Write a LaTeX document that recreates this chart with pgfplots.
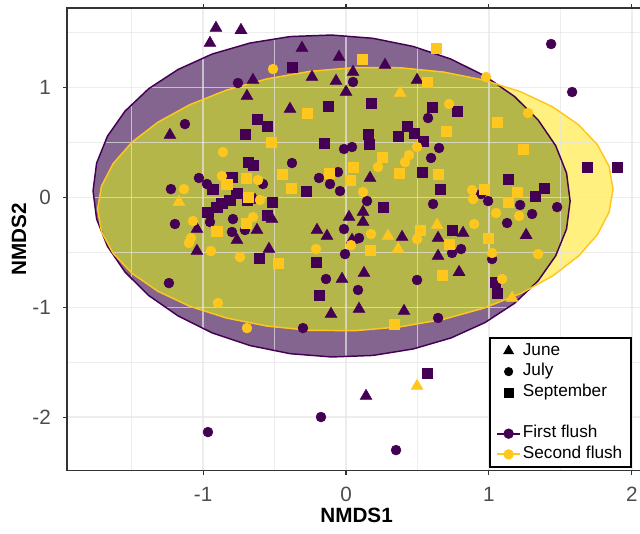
\documentclass[border=0pt]{standalone}
\usepackage{fontspec}
\setmainfont{Liberation Sans}
\usepackage{pgfplots}
\usepackage{pgfplotstable}
\pgfplotsset{compat=1.18}

\definecolor{ffpurple}{HTML}{440154}
\definecolor{sfgold}{RGB}{255,199,30}
\definecolor{fillfirst}{RGB}{131,101,143}
\definecolor{fillsecond}{RGB}{255,240,128}
\definecolor{filloverlap}{RGB}{180,182,74}
\definecolor{gridgray}{gray}{0.90}
\definecolor{ticktext}{gray}{0.30}
\definecolor{framegray}{gray}{0.20}

% 95% ellipses (outline)
\pgfplotstableread{
x y
1.568 -0.032
1.543 0.223
1.467 0.472
1.344 0.707
1.178 0.921
0.972 1.107
0.734 1.261
0.470 1.376
0.189 1.450
-0.101 1.480
-0.391 1.466
-0.672 1.407
-0.936 1.307
-1.174 1.167
-1.380 0.992
-1.546 0.787
-1.669 0.559
-1.745 0.314
-1.770 0.060
-1.745 -0.195
-1.669 -0.444
-1.546 -0.679
-1.380 -0.893
-1.174 -1.079
-0.936 -1.233
-0.672 -1.348
-0.391 -1.422
-0.101 -1.452
0.189 -1.438
0.470 -1.379
0.734 -1.279
0.972 -1.139
1.178 -0.964
1.344 -0.759
1.467 -0.531
1.543 -0.286
}\ellfirst

\pgfplotstableread{
x y
1.868 0.077
1.841 0.284
1.759 0.481
1.626 0.664
1.446 0.826
1.224 0.962
0.967 1.069
0.682 1.143
0.378 1.182
0.065 1.184
-0.248 1.150
-0.552 1.081
-0.837 0.978
-1.094 0.845
-1.316 0.686
-1.496 0.506
-1.629 0.310
-1.711 0.104
-1.738 -0.105
-1.711 -0.312
-1.629 -0.509
-1.496 -0.692
-1.316 -0.854
-1.094 -0.990
-0.837 -1.097
-0.552 -1.171
-0.248 -1.210
0.065 -1.212
0.378 -1.178
0.682 -1.109
0.967 -1.006
1.224 -0.873
1.446 -0.714
1.626 -0.534
1.759 -0.338
1.841 -0.132
}\ellsecond

% region covered by both ellipses
\pgfplotstableread{
x y
1.054 1.040
0.967 1.069
0.682 1.143
0.378 1.182
0.065 1.184
-0.248 1.150
-0.552 1.081
-0.837 0.978
-1.094 0.845
-1.316 0.686
-1.496 0.506
-1.629 0.310
-1.711 0.104
-1.738 -0.105
-1.711 -0.312
-1.629 -0.509
-1.496 -0.692
-1.316 -0.854
-1.094 -0.990
-0.837 -1.097
-0.552 -1.171
-0.248 -1.210
0.065 -1.212
0.378 -1.178
0.682 -1.109
0.967 -1.006
1.224 -0.873
1.295 -0.820
1.344 -0.759
1.467 -0.531
1.543 -0.286
1.568 -0.032
1.543 0.223
1.467 0.472
1.344 0.707
1.178 0.921
}\elloverlap

% First flush
\pgfplotstableread{
x y
-0.910 1.544
-0.735 1.525
-0.952 1.407
-0.308 1.362
-0.651 1.070
-0.238 1.097
-0.693 0.924
-0.392 0.806
-1.232 0.569
-0.049 1.280
-0.070 1.061
0.049 1.143
0.000 0.961
0.273 1.207
0.497 1.070
-0.637 -0.023
-0.518 -0.196
-0.623 -0.296
-1.043 -0.287
-0.763 -0.387
-1.043 -0.487
-0.539 -0.469
-0.203 -0.296
-0.133 -0.351
0.042 -0.387
0.021 -0.178
0.119 -0.132
0.119 -0.223
0.168 0.178
0.392 -0.360
0.644 -0.369
0.644 -0.533
0.819 -0.323
0.791 -0.679
1.260 -0.342
-0.028 -0.742
0.126 -0.688
0.091 -1.015
0.406 -1.034
-0.105 -1.061
0.140 -1.808
}\ffjune

\pgfplotstableread{
x y
-0.756 1.043
-1.127 0.669
-0.378 0.314
-1.029 0.178
-0.973 0.123
-1.225 0.077
-0.581 0.123
-0.189 0.178
-0.112 0.123
-0.056 0.232
-0.042 0.059
-0.014 0.442
0.042 0.460
0.049 1.052
0.574 0.724
0.651 0.451
0.595 0.360
0.147 -0.032
0.609 -0.059
0.945 0.032
0.994 -0.032
1.435 1.398
1.582 0.961
1.218 -0.068
1.477 -0.087
1.302 -0.150
1.127 -0.232
-1.197 -0.241
-0.791 -0.196
-0.798 -0.314
-0.707 -0.296
-0.952 -0.223
-0.014 -0.287
0.091 -0.369
-0.007 -0.515
0.805 -0.469
0.742 -0.505
1.022 -0.560
-0.140 -0.742
0.497 -0.751
0.084 -0.842
0.644 -1.097
-1.239 -0.779
-0.301 -1.189
-0.966 -2.136
-0.175 -1.999
0.350 -2.300
}\ffjuly

\pgfplotstableread{
x y
-0.378 1.189
-0.623 0.715
-0.553 0.651
-0.707 0.578
-0.686 0.323
-0.651 0.296
-0.798 0.187
-0.931 0.077
-0.280 0.059
-0.763 0.041
-0.812 -0.023
-0.868 -0.050
-0.903 -0.087
-0.966 -0.132
-0.693 -0.023
-0.518 -0.041
-0.553 -0.159
-0.126 0.833
-0.154 0.496
0.175 0.861
0.602 0.824
0.777 0.788
0.427 0.651
0.476 0.587
0.364 0.560
0.539 0.515
0.154 0.578
0.161 0.487
0.532 0.232
0.658 0.077
0.259 -0.087
1.134 0.168
1.386 0.087
1.323 0.014
1.687 0.278
1.896 0.278
0.742 -0.296
-0.609 -0.551
-0.210 -0.587
-0.189 -0.888
1.043 -0.770
1.057 -0.870
0.567 -1.598
}\ffsept

% Second flush
\pgfplotstableread{
x y
-1.169 -0.041
0.378 0.952
0.637 -0.250
0.294 -0.351
0.364 -0.469
1.162 -0.915
0.497 -1.717
}\sfjune

\pgfplotstableread{
x y
-0.511 1.170
-0.861 0.414
-0.868 0.196
-0.616 0.159
-1.134 0.077
-0.602 -0.023
-0.651 -0.178
-1.071 -0.214
-1.085 -0.369
-1.099 -0.414
-0.945 -0.487
-0.742 -0.542
-0.210 -0.469
0.721 0.852
0.980 1.097
1.274 0.770
0.497 0.460
0.441 0.387
0.413 0.323
0.224 0.278
0.119 0.050
0.882 0.068
0.889 -0.014
1.050 -0.141
1.211 -0.168
0.896 -0.241
0.175 -0.332
0.497 -0.378
0.035 -0.433
1.022 -0.505
1.344 -0.515
1.092 -0.742
-0.896 -0.961
-0.693 -1.189
}\sfjuly

\pgfplotstableread{
x y
-0.273 0.770
-0.525 0.505
-0.700 0.178
-0.448 0.214
-0.833 0.123
-0.385 0.087
-0.686 0.005
-0.903 -0.305
-0.700 -0.232
-0.476 -0.597
0.112 1.261
0.630 1.362
0.567 1.052
1.057 0.688
0.700 0.606
1.239 0.442
0.252 0.369
0.049 0.278
-0.119 0.223
0.028 0.159
0.371 0.223
0.644 0.214
0.966 0.077
1.197 0.050
1.134 -0.041
0.518 -0.296
0.994 -0.369
0.721 -0.423
0.168 -0.478
0.672 -0.706
0.336 -1.152
}\sfsept

\begin{document}
\begin{tikzpicture}
\begin{axis}[
    set layers,
    scale only axis,
    width=434.3pt, height=347pt,
    xmin=-1.952, xmax=2.1,
    ymin=-2.488, ymax=1.726,
    xtick={-1,0,1,2}, ytick={-2,-1,0,1},
    minor xtick={-1.5,-0.5,0.5,1.5},
    minor ytick={-1.5,-0.5,0.5,1.5},
    grid=both,
    major grid style={line width=1.1pt, draw=gridgray, draw opacity=0.7},
    minor grid style={line width=0.6pt, draw=gridgray, draw opacity=0.7},
    axis line style={line width=1.1pt, draw=framegray},
    tick align=outside,
    major tick length=3pt, minor tick length=0pt,
    tick style={line width=0.8pt, draw=framegray, draw opacity=1},
    /pgf/number format/assume math mode=true,
    ticklabel style={font=\fontsize{15.5}{18}\selectfont, text=ticktext, inner sep=0pt},
    xticklabel style={anchor=north, yshift=-9.2pt},
    yticklabel style={anchor=east, xshift=-9pt},
    xlabel={NMDS1}, ylabel={NMDS2},
    label style={font=\bfseries\fontsize{15.5}{18}\selectfont},
    xlabel style={at={(axis description cs:0.5,-0.0968)}, anchor=center},
    ylabel style={at={(axis description cs:-0.0829,0.5)}, anchor=center},
    legend style={at={(axis cs:2.001,-1.27)}, anchor=north east,
        draw=black, line width=1.5pt, fill=white,
        font=\fontsize{12.9}{15}\selectfont,
        inner xsep=5pt, inner ysep=2pt, row sep=0pt,
        nodes={inner sep=1.5pt, text height=9.5pt, text depth=3pt}},
    legend cell align=left,
]
% ellipse fills, under the grid
\addplot[forget plot, on layer=axis background, draw=none, fill=fillfirst] table {\ellfirst} -- cycle;
\addplot[forget plot, on layer=axis background, draw=none, fill=fillsecond] table {\ellsecond} -- cycle;
\addplot[forget plot, on layer=axis background, draw=none, fill=filloverlap] table {\elloverlap} -- cycle;
% ellipse outlines
\addplot[forget plot, ffpurple, line width=1.1pt] table {\ellfirst} -- cycle;
\addplot[forget plot, sfgold, line width=1.1pt] table {\ellsecond} -- cycle;

% points
\addplot[forget plot, only marks, mark=triangle*, mark size=5.1pt, ffpurple] table {\ffjune};
\addplot[forget plot, only marks, mark=*, mark size=3.7pt, ffpurple] table {\ffjuly};
\addplot[forget plot, only marks, mark=square*, mark size=3.9pt, ffpurple] table {\ffsept};
\addplot[forget plot, only marks, mark=triangle*, mark size=5.1pt, sfgold] table {\sfjune};
\addplot[forget plot, only marks, mark=*, mark size=3.7pt, sfgold] table {\sfjuly};
\addplot[forget plot, only marks, mark=square*, mark size=3.9pt, sfgold] table {\sfsept};

% legend
\addlegendimage{only marks, mark=triangle*, mark size=4.4pt, black, line width=0.4pt}
\addlegendentry{June}
\addlegendimage{only marks, mark=*, mark size=3.2pt, black, line width=0.4pt}
\addlegendentry{July}
\addlegendimage{only marks, mark=square*, mark size=3.4pt, black, line width=0.4pt}
\addlegendentry{September}
\addlegendimage{empty legend}
\addlegendentry{}
\addlegendimage{ffpurple, line width=1.3pt, mark=*, mark size=3.2pt}
\addlegendentry{First flush}
\addlegendimage{sfgold, line width=1.3pt, mark=*, mark size=3.2pt}
\addlegendentry{Second flush}

\coordinate (bbSW) at (axis cs:-2.421,-3.056);
\coordinate (bbNE) at (axis cs:2.057,1.799);
\end{axis}
\pgfresetboundingbox
\path[use as bounding box] (bbSW) rectangle (bbNE);
\end{tikzpicture}
\end{document}
